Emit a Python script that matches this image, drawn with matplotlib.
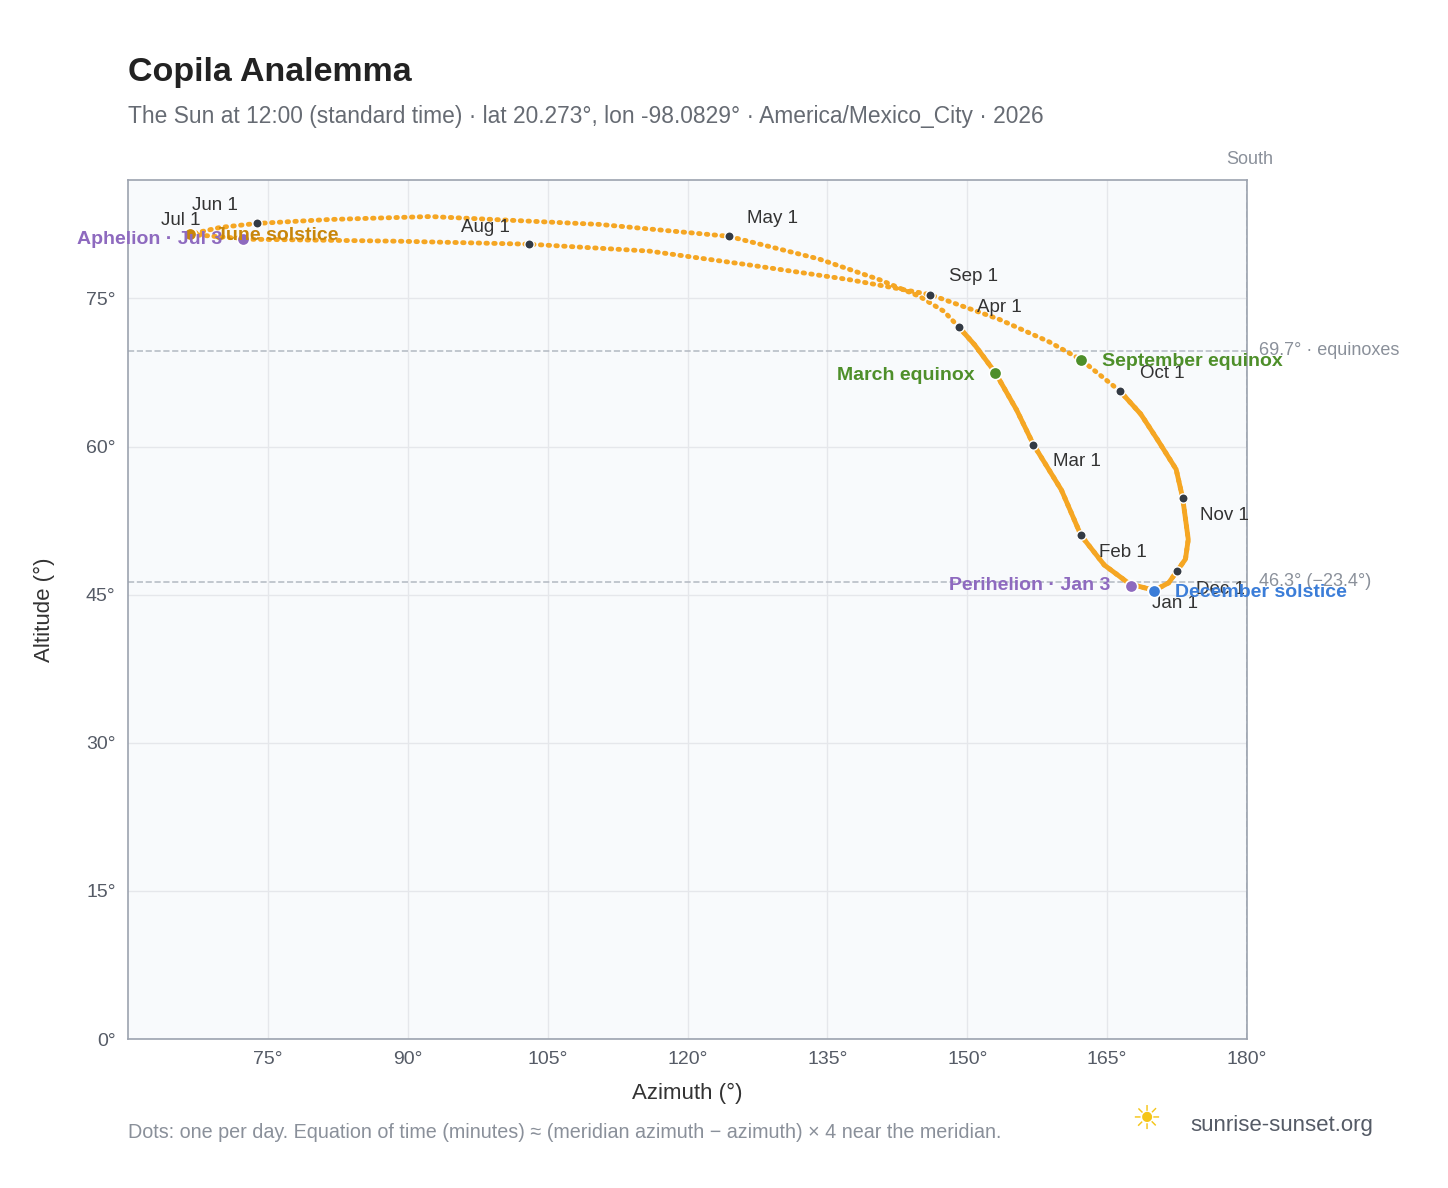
import matplotlib
matplotlib.use("Agg")
import matplotlib.pyplot as plt

plt.rcParams['font.family'] = ['Liberation Sans', 'DejaVu Sans']

# daily-track waypoints (azimuth, altitude)
azimuth = [169.8,167.4,164.7,162.2,160.1,157.1,155.3,153.0,150.8,149.1,147.5,144.9,140.6,134.1,124.4,
           110.6,92.4,81.6,73.8,69.9,66.6,73.1,89.1,103.0,115.9,126.6,137.4,146.0,153.4,158.8,162.2,
           166.4,168.6,170.4,172.4,173.1,173.7,173.4,172.5,171.6,170.0,169.8]
altitude = [45.5,46.1,48.0,51.0,55.6,60.2,63.7,67.5,70.3,72.1,73.7,75.2,76.9,79.0,81.3,
            82.5,83.3,83.0,82.6,82.2,81.5,81.0,80.8,80.5,79.8,78.4,76.9,75.4,72.9,70.6,68.8,
            65.6,63.3,60.7,57.7,54.8,50.6,48.6,47.4,46.2,45.4,45.5]
solid_a = (0, 10)
solid_b = (31, 42)

month_labels = ["Jan 1","Feb 1","Mar 1","Apr 1","May 1","Jun 1","Jul 1","Aug 1","Sep 1","Oct 1","Nov 1","Dec 1"]
month_az = [169.8,162.2,157.1,149.1,124.4,73.8,66.6,103.0,146.0,166.4,173.1,172.5]
month_alt = [45.5,51.0,60.2,72.1,81.3,82.6,81.5,80.5,75.4,65.6,54.8,47.4]
month_off = [(17,-10),(30,-12),(31,-12),(29,14),(32,13),(-30,13),(-6,10),(-31,12),(31,13),(30,13),(30,-13),(31,-13)]

fig = plt.figure(figsize=(14.48,11.88), dpi=100)
ax = fig.add_axes([128/1448, 1-1039/1188, (1247-128)/1448, (1039-180)/1188])
ax.set_facecolor("#f8fafc")
ax.set_xlim(60,180); ax.set_ylim(0,87)
xt = [75,90,105,120,135,150,165,180]
ax.set_xticks(xt); ax.set_xticklabels([f"{v}°" for v in xt])
yt = [0,15,30,45,60,75]
ax.set_yticks(yt); ax.set_yticklabels([f"{v}°" for v in yt])
ax.grid(color="#e5e7eb", lw=1)
ax.tick_params(colors="#555b66", labelsize=14, length=0, pad=9)
for s in ax.spines.values(): s.set_color("#9ca3af"); s.set_linewidth(1.2)
ax.set_xlabel("Azimuth (°)", fontsize=16, color="#333", labelpad=10)
ax.set_ylabel("Altitude (°)", fontsize=16, color="#333", labelpad=22)

ax.axhline(69.7, color="#b8bec6", ls="--", lw=1.2)
ax.axhline(46.3, color="#b8bec6", ls="--", lw=1.2)
ax.axvline(180, color="#b8bec6", ls="--", lw=1.2)
ax.text(181.3, 69.7, "69.7° · equinoxes", color="#8a909a", fontsize=13, va="center", clip_on=False)
ax.text(181.3, 46.3, "46.3° (−23.4°)", color="#8a909a", fontsize=13, va="center", clip_on=False)
ax.text(180.3, 88.6, "South", color="#8a909a", fontsize=13, ha="center", clip_on=False)

ax.plot(azimuth, altitude, color="#f5a623", lw=3.5, ls=(0,(0.3,1.3)), dash_capstyle="round", zorder=3)
for a,b in (solid_a, solid_b):
    ax.plot(azimuth[a:b], altitude[a:b], color="#f5a623", lw=3.5, zorder=3, solid_capstyle="round",
            solid_joinstyle="round")

ax.scatter(month_az, month_alt, s=45, color="#333a44", edgecolor="white", lw=1, zorder=5)
for l,x,y,o in zip(month_labels, month_az, month_alt, month_off):
    ax.annotate(l, (x,y), xytext=o, textcoords="offset points", fontsize=13.5, color="#333",
                ha="center", va="center", zorder=6)

ev = [("March equinox",153.0,67.5,"#4e8f2a",(-15,-2),"right"),
      ("September equinox",162.2,68.8,"#4e8f2a",(15,-1),"left"),
      ("June solstice",66.6,81.5,"#c8860a",(18,-1),"left"),
      ("December solstice",170.0,45.4,"#3b7dd8",(15,-1),"left"),
      ("Perihelion · Jan 3",167.6,45.9,"#8e6abf",(-15,0),"right"),
      ("Aphelion · Jul 3",72.3,81.0,"#8e6abf",(-15,0),"right")]
for l,x,y,c,o,ha in ev:
    ax.scatter([x],[y], s=80, color=c, edgecolor="white", lw=1.2, zorder=6)
    ax.annotate(l,(x,y),xytext=o,textcoords="offset points",fontsize=14,color=c,fontweight="bold",
                ha=ha,va="center",zorder=7,annotation_clip=False)

fig.text(128/1448, 1-72/1188, "Copila Analemma", fontsize=24.5, fontweight="bold", color="#222", va="center")
fig.text(128/1448, 1-116/1188, "The Sun at 12:00 (standard time) · lat 20.273°, lon -98.0829° · America/Mexico_City · 2026",
         fontsize=16.4, color="#666b73", va="center")
fig.text(128/1448, 1-1133/1188, "Dots: one per day. Equation of time (minutes) ≈ (meridian azimuth − azimuth) × 4 near the meridian.",
         fontsize=14.2, color="#8a909a", va="center")
fig.text(1190/1448, 1-1125/1188, "sunrise-sunset.org", fontsize=16, color="#555b66", va="center")
fig.text(1146/1448, 1-1120/1188, "☀", fontsize=24, color="#f5c518", va="center", ha="center", family="DejaVu Sans")
fig.savefig("out.png", dpi=100)
